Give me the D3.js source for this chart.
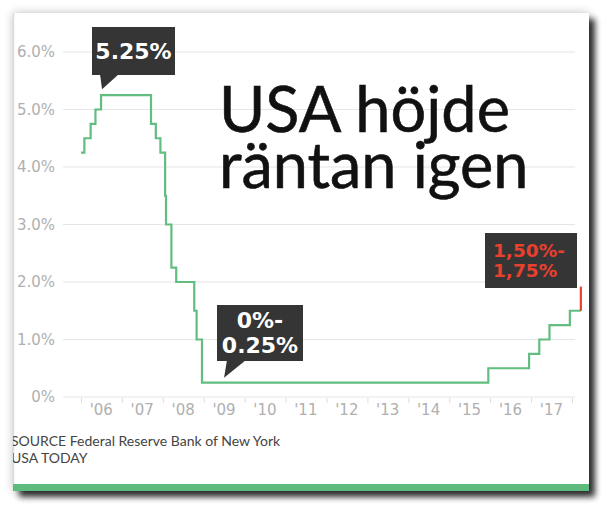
<!DOCTYPE html>
<html>
<head>
<meta charset="utf-8">
<script src="https://cdn.jsdelivr.net/npm/d3@7"></script>
<style>
  body { margin: 0; background: #fff; }
  svg { display: block; }
</style>
</head>
<body>
<div id="chart"></div>
<script>
// fed funds target rate, step dates and levels (upper bound)
var rateDates = ["2006-01-01", "2006-01-31", "2006-03-28", "2006-05-10", "2006-06-29",
  "2007-09-18", "2007-10-31", "2007-12-11", "2008-01-22", "2008-01-30", "2008-03-18",
  "2008-04-30", "2008-10-08", "2008-10-29", "2008-12-16", "2015-12-16", "2016-12-14",
  "2017-03-15", "2017-06-14", "2017-12-13", "2018-03-21"];
var rateValues = [4.25, 4.5, 4.75, 5.0, 5.25, 4.75, 4.5, 4.25, 3.5, 3.0, 2.25,
  2.0, 1.5, 1.0, 0.25, 0.5, 0.75, 1.0, 1.25, 1.5, 1.5];
// latest hike, drawn in red
var hikeDates = ["2018-03-21", "2018-03-21"];
var hikeValues = [1.5, 1.92];

var yTicks = [0, 1, 2, 3, 4, 5, 6];
var yearLabels = ["'06", "'07", "'08", "'09", "'10", "'11", "'12", "'13", "'14", "'15", "'16", "'17"];

var titleLines = ["USA höjde", "räntan igen"];
var sourceLines = ["SOURCE Federal Reserve Bank of New York", "USA TODAY"];

var parse = d3.timeParse("%Y-%m-%d");
var rateData = rateDates.map((d, i) => ({ date: parse(d), value: rateValues[i] }));
var hikeData = hikeDates.map((d, i) => ({ date: parse(d), value: hikeValues[i] }));

var svgWidth = 614, svgHeight = 506;
var svg = d3.select("#chart").append("svg")
  .attr("width", svgWidth)
  .attr("height", svgHeight);

var defs = svg.append("defs");
var shadow = defs.append("filter").attr("id", "shadow")
  .attr("x", "-10%").attr("y", "-10%").attr("width", "125%").attr("height", "125%");
shadow.append("feGaussianBlur").attr("in", "SourceAlpha").attr("stdDeviation", 3).attr("result", "b");
shadow.append("feOffset").attr("in", "b").attr("dx", 6).attr("dy", 6).attr("result", "o");
shadow.append("feComponentTransfer").attr("in", "o").attr("result", "o2")
  .append("feFuncA").attr("type", "linear").attr("slope", 0.8);
shadow.append("feGaussianBlur").attr("in", "SourceAlpha").attr("stdDeviation", 5).attr("result", "g");
shadow.append("feComponentTransfer").attr("in", "g").attr("result", "g2")
  .append("feFuncA").attr("type", "linear").attr("slope", 0.25);
var merge = shadow.append("feMerge");
merge.append("feMergeNode").attr("in", "g2");
merge.append("feMergeNode").attr("in", "o2");
merge.append("feMergeNode").attr("in", "SourceGraphic");

defs.append("clipPath").attr("id", "card")
  .append("rect").attr("x", 13).attr("y", 13).attr("width", 576).attr("height", 478);

// card
svg.append("rect")
  .attr("x", 13).attr("y", 13).attr("width", 576).attr("height", 478)
  .attr("fill", "#fff")
  .attr("filter", "url(#shadow)");
svg.append("line")
  .attr("x1", 13.5).attr("x2", 13.5).attr("y1", 13).attr("y2", 491)
  .attr("stroke", "#ddd").attr("stroke-width", 1.5);
svg.append("rect")
  .attr("x", 13).attr("y", 484).attr("width", 576).attr("height", 7)
  .attr("fill", "#5dbb7e");

var chart = svg.append("g").attr("clip-path", "url(#card)");

var x = d3.scaleTime()
  .domain([parse("2006-01-01"), parse("2018-01-01")])
  .range([81, 572]);
var y = d3.scaleLinear()
  .domain([0, 6])
  .range([397, 52]);

// gridlines + y labels
chart.selectAll(".grid").data(yTicks).enter().append("line")
  .attr("x1", 63).attr("x2", 575)
  .attr("y1", d => y(d)).attr("y2", d => y(d))
  .attr("stroke", "#e6e6e6").attr("stroke-width", 1.2);

chart.selectAll(".ylab").data(yTicks).enter().append("text")
  .attr("x", 55).attr("y", d => y(d) + 5)
  .attr("text-anchor", "end")
  .attr("font-family", "DejaVu Sans").attr("font-size", 15)
  .attr("fill", "#b0b0b0")
  .text(d => d === 0 ? "0%" : d.toFixed(1) + "%");

// x axis
var years = d3.timeYear.range(parse("2006-01-01"), parse("2018-01-02"));
var xAxis = chart.append("g")
  .attr("transform", "translate(0,398)")
  .call(d3.axisBottom(x).tickValues(years).tickSize(5).tickFormat(""));
xAxis.select(".domain").remove();
xAxis.selectAll("line").attr("stroke", "#ddd");

chart.selectAll(".xlab").data(yearLabels).enter().append("text")
  .attr("x", (d, i) => x(d3.timeMonth.offset(years[i], 6)))
  .attr("y", 415)
  .attr("text-anchor", "middle")
  .attr("font-family", "DejaVu Sans").attr("font-size", 15)
  .attr("fill", "#b0b0b0")
  .text(d => d);

// rate line
var line = d3.line()
  .x(d => x(d.date))
  .y(d => y(d.value))
  .curve(d3.curveStepAfter);

chart.append("path")
  .datum(rateData)
  .attr("d", line)
  .attr("fill", "none")
  .attr("stroke", "#62bd80")
  .attr("stroke-width", 2.2);

chart.append("path")
  .datum(hikeData)
  .attr("d", d3.line().x(d => x(d.date)).y(d => y(d.value)))
  .attr("fill", "none")
  .attr("stroke", "#e8402f")
  .attr("stroke-width", 2.2);

// callouts
function callout(tipX, tipY, box, lines, color, anchor) {
  var g = chart.append("g");
  g.append("rect")
    .attr("x", box.x).attr("y", box.y).attr("width", box.w).attr("height", box.h)
    .attr("fill", "#353535");
  if (box.ptr) {
    g.append("path")
      .attr("d", `M${box.ptr[0]},${box.y + box.h - 1}L${box.ptr[1]},${box.y + box.h - 1}L${tipX},${tipY}Z`)
      .attr("fill", "#353535");
  }
  lines.forEach(function(t, i) {
    g.append("text")
      .attr("x", anchor === "start" ? box.x + 8 : box.x + box.w / 2)
      .attr("y", box.y + box.ty + i * box.lh)
      .attr("text-anchor", anchor || "middle")
      .attr("font-family", box.font).attr("font-weight", box.weight)
      .attr("font-size", box.fs)
      .attr("fill", color)
      .text(t);
  });
}

var peak = rateData[4];
callout(x(peak.date) + 1, y(peak.value) - 6,
  { x: 92, y: 27, w: 83, h: 48, ptr: [100, 119], ty: 32, lh: 0, fs: 22,
    font: "DejaVu Sans", weight: "bold" },
  ["5.25%"], "#fff");

var floorPt = { date: parse("2009-07-01"), value: 0.25 };
callout(x(floorPt.date), y(floorPt.value) - 5,
  { x: 217, y: 305, w: 86, h: 56, ptr: [227, 246], ty: 23, lh: 25, fs: 22,
    font: "DejaVu Sans", weight: "bold" },
  ["0%-", "0.25%"], "#fff");

callout(0, 0,
  { x: 485, y: 233, w: 92, h: 55, ty: 24, lh: 20, fs: 18.5,
    font: "DejaVu Sans", weight: "bold" },
  ["1,50%-", "1,75%"], "#e8402f", "start");

// title
chart.selectAll(".title").data(titleLines).enter().append("text")
  .attr("x", 219).attr("y", (d, i) => 132 + i * 56)
  .attr("font-family", "Lato").attr("font-size", 63)
  .attr("fill", "#111")
  .attr("stroke", "#111").attr("stroke-width", 0.6)
  .text(d => d);

// source
chart.selectAll(".src").data(sourceLines).enter().append("text")
  .attr("x", 11).attr("y", (d, i) => 446 + i * 17)
  .attr("font-family", "Lato").attr("font-size", 14)
  .attr("fill", "#444")
  .text(d => d);
</script>
</body>
</html>
